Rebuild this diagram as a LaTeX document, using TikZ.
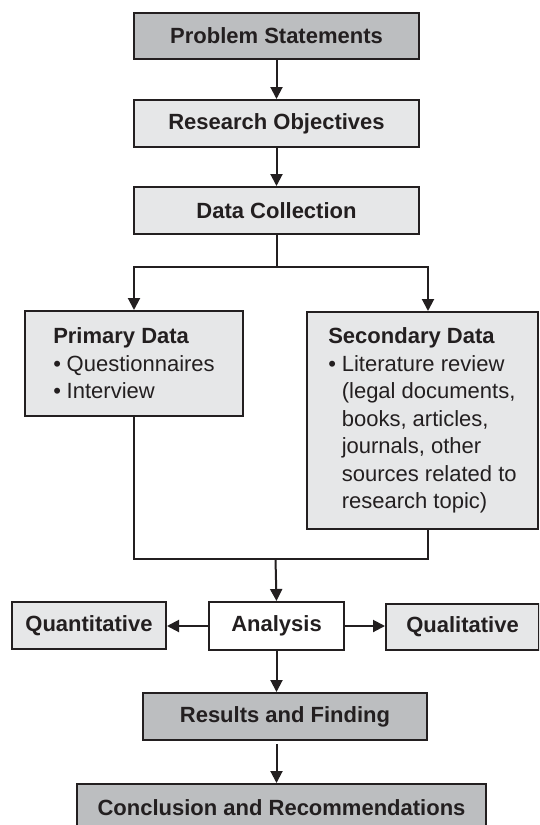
\documentclass[tikz,border=0pt]{standalone}
\usepackage{fontspec}
\setmainfont{Liberation Sans}
\usetikzlibrary{arrows.meta,calc}
\definecolor{darkfill}{HTML}{BCBEC0}
\definecolor{lightfill}{HTML}{E6E7E8}
\definecolor{ink}{HTML}{231F20}
\newcommand\mybul{\makebox[13.5pt][l]{\textbullet}}
\newcommand\myind{\hspace*{13.5pt}}
\begin{document}
\begin{tikzpicture}[x=1pt,y=-1pt,
  box/.style={draw=ink, line width=2pt, rectangle, inner sep=0pt, anchor=north west,
    font=\fontsize{22}{27.5}\selectfont\bfseries, text=ink},
  darkbox/.style={box, fill=darkfill},
  lightbox/.style={box, fill=lightfill},
  whitebox/.style={box, fill=white},
  conn/.style={draw=ink, line width=2pt},
  arr/.style={conn, -{Triangle[length=12pt,width=12pt]}},
]
\clip (0,0) rectangle (539,825);
\fill[white] (0,0) rectangle (539,825);

\node[darkbox, minimum width=285pt, minimum height=46pt] (ps) at (133,12) {Problem Statements};
\node[lightbox, minimum width=285pt, minimum height=47pt] (ro) at (133,99) {Research Objectives};
\node[lightbox, minimum width=285pt, minimum height=47pt] (dc) at (133,186) {Data Collection};

\node[lightbox, minimum width=218pt, minimum height=105pt, align=left] (prim) at (24,310)
  {Primary Data\\ \mdseries\mybul Questionnaires\\ \mdseries\mybul Interview};
\node[lightbox, minimum width=231pt, minimum height=217pt, align=left] (sec) at (306,311)
  {Secondary Data\\ \mdseries\mybul Literature review\\ \mdseries\myind(legal documents,\\
   \mdseries\myind books, articles,\\ \mdseries\myind journals, other\\
   \mdseries\myind sources related to\\ \mdseries\myind research topic)};

\node[whitebox, minimum width=135pt, minimum height=48pt] (ana) at (208,601) {Analysis};
\node[lightbox, minimum width=154pt, minimum height=47pt] (quan) at (11,601) {Quantitative};
\node[lightbox, minimum width=153pt, minimum height=46pt] (qual) at (385,603) {Qualitative};

\node[darkbox, minimum width=284pt, minimum height=47pt] (res) at (142,692) {Results and Finding};
\node[darkbox, minimum width=409pt, minimum height=47pt] (con) at (76,783) {Conclusion and Recommendations};

\coordinate (split) at ($(dc.south)+(0,32)$);
\coordinate (secin) at ($(sec.north west)+(122,0)$);
\coordinate (secout) at ($(sec.south west)+(122,0)$);
\coordinate (merge) at (275.5,559);

\draw[arr] (ps) -- (ro);
\draw[arr] (ro) -- (dc);
\draw[conn] (dc.south) -- (split);
\draw[arr] (split) -| (prim.north);
\draw[arr] (split) -| (secin);
\draw[conn] (prim.south) |- (merge) -| (secout);
\draw[arr] (merge) -- (ana.north);
\draw[arr] (ana.west) -- (ana.west -| quan.east);
\draw[arr] (ana.east) -- (ana.east -| qual.west);
\draw[arr] (ana.south) -- (ana.south |- res.north);
\draw[arr] ($(ana.south |- res.south)+(0,3)$) -- (ana.south |- con.north);
\end{tikzpicture}
\end{document}
